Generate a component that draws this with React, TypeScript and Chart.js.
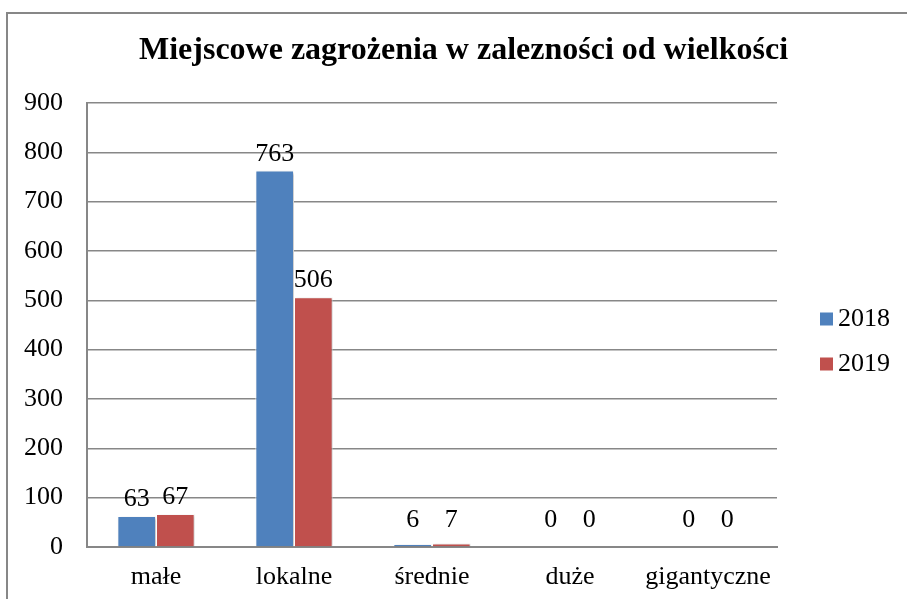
import React, { useEffect, useRef } from "react";
import { Chart, registerables } from "chart.js";

Chart.register(...registerables);

const titleText = "Miejscowe zagrożenia w zalezności od wielkości";
const categories = ["małe", "lokalne", "średnie", "duże", "gigantyczne"];
const seriesLabels = ["2018", "2019"];
const values2018 = [63, 763, 6, 0, 0];
const values2019 = [67, 506, 7, 0, 0];
const seriesColors = ["#4F81BD", "#C0504D"];
const yMin = 0;
const yMax = 900;
const yStep = 100;

const SERIF = "'Liberation Serif', 'Times New Roman', serif";
const GRID = "#878787";
const FS = 26;

const decorPlugin = {
  id: "decor",
  beforeDatasetsDraw(chart: any) {
    const ctx = chart.ctx;
    ctx.save();
    ctx.shadowColor = "rgba(0,0,0,0.28)";
    ctx.shadowBlur = 3;
    ctx.shadowOffsetX = 1.5;
    ctx.shadowOffsetY = 1;
  },
  afterDatasetsDraw(chart: any) {
    const ctx = chart.ctx;
    ctx.restore();
    const base = chart.chartArea.bottom;
    ctx.save();
    ctx.font = `${FS}px ${SERIF}`;
    ctx.fillStyle = "#000";
    ctx.textAlign = "center";
    ctx.textBaseline = "alphabetic";
    chart.data.datasets.forEach((ds: any, di: number) => {
      const meta = chart.getDatasetMeta(di);
      meta.data.forEach((bar: any, i: number) => {
        const y = Math.min(bar.y - 10, base - 20);
        ctx.fillText(String(ds.data[i]), bar.x, y);
      });
    });
    ctx.restore();
  },
  afterDraw(chart: any) {
    const ctx = chart.ctx;
    const area = chart.chartArea;
    ctx.save();
    // title
    ctx.font = `bold 32px ${SERIF}`;
    ctx.fillStyle = "#000";
    ctx.textAlign = "center";
    ctx.textBaseline = "middle";
    ctx.fillText(titleText, 463.5, 51);
    // legend
    ctx.font = `${FS}px ${SERIF}`;
    ctx.textAlign = "left";
    chart.data.datasets.forEach((ds: any, di: number) => {
      const cy = area.top + 216 + di * 45;
      ctx.fillStyle = ds.backgroundColor;
      ctx.fillRect(area.right + 43, cy - 6.5, 13, 13);
      ctx.fillStyle = "#000";
      ctx.fillText(ds.label, area.right + 61, cy);
    });
    ctx.restore();
  },
};

export default function App() {
  const canvasRef = useRef<HTMLCanvasElement | null>(null);

  useEffect(() => {
    if (!canvasRef.current) return;
    const chart = new Chart(canvasRef.current, {
      type: "bar",
      data: {
        labels: categories,
        datasets: [
          {
            label: seriesLabels[0],
            data: values2018,
            backgroundColor: seriesColors[0],
            borderColor: "#ffffff",
            borderWidth: 1,
          },
          {
            label: seriesLabels[1],
            data: values2019,
            backgroundColor: seriesColors[1],
            borderColor: "#ffffff",
            borderWidth: 1,
          },
        ],
      },
      options: {
        responsive: false,
        animation: false,
        devicePixelRatio: 1,
        layout: { padding: { top: 103, right: 130, bottom: 0, left: 0 } },
        datasets: {
          bar: { barPercentage: 1, categoryPercentage: 0.56 },
        },
        plugins: {
          legend: { display: false },
          title: { display: false },
          tooltip: { enabled: false },
        },
        scales: {
          x: {
            afterFit: (s: any) => {
              s.height = 52;
            },
            grid: { display: false, drawTicks: false },
            border: { display: true, color: GRID, width: 2 },
            ticks: {
              color: "#000",
              padding: 15,
              font: { family: SERIF, size: FS },
              maxRotation: 0,
              autoSkip: false,
            },
          },
          y: {
            min: yMin,
            max: yMax,
            afterFit: (s: any) => {
              s.width = 87;
            },
            grid: { color: GRID, lineWidth: 1.5, drawTicks: false },
            border: { display: true, color: GRID, width: 2 },
            ticks: {
              stepSize: yStep,
              color: "#000",
              padding: 24,
              font: { family: SERIF, size: FS },
            },
          },
        },
      },
      plugins: [decorPlugin],
    });
    return () => chart.destroy();
  }, []);

  return (
    <div
      style={{
        position: "fixed",
        left: 0,
        top: 0,
        width: 907,
        height: 599,
        overflow: "hidden",
        background: "#fff",
      }}
    >
      <div
        style={{
          position: "absolute",
          left: 6,
          top: 12,
          width: 940,
          height: 640,
          border: `2px solid ${GRID}`,
          boxSizing: "border-box",
        }}
      />
      <canvas
        ref={canvasRef}
        width={907}
        height={599}
        style={{ position: "absolute", left: 0, top: 0, width: 907, height: 599 }}
      />
    </div>
  );
}
